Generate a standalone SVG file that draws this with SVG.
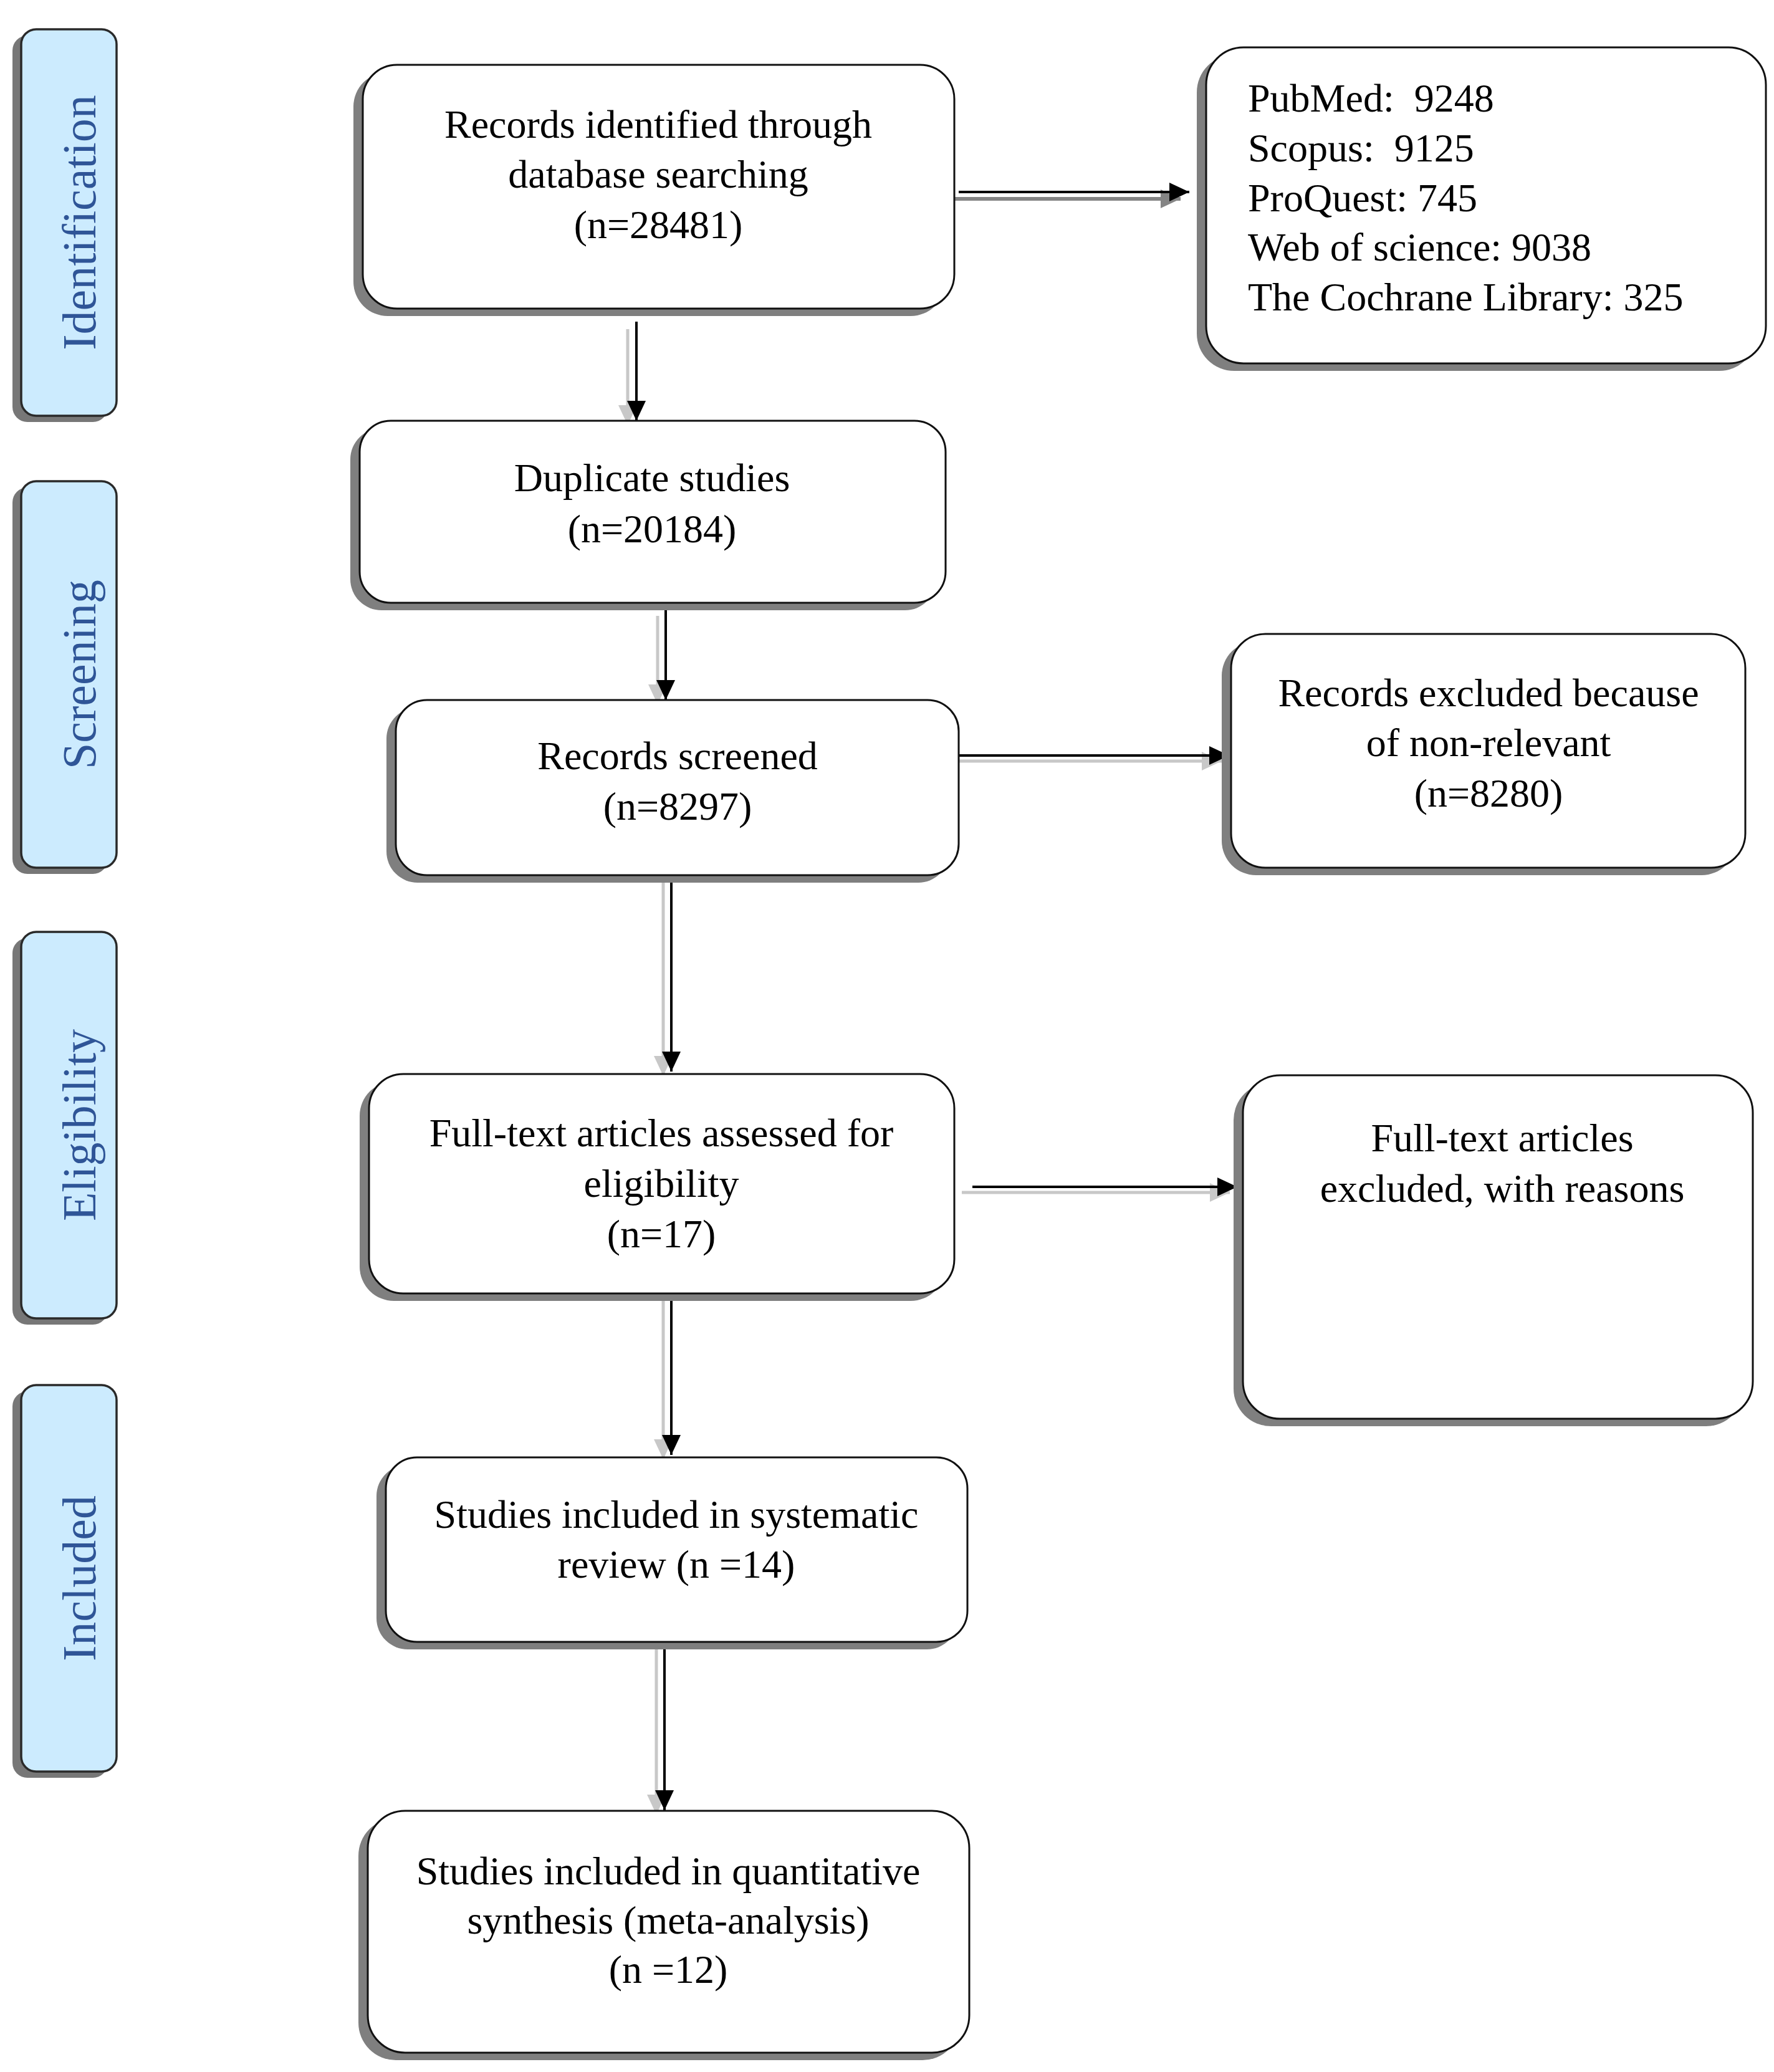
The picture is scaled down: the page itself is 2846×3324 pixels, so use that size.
<svg xmlns="http://www.w3.org/2000/svg" width="2846" height="3324" viewBox="0 0 2846 3324">
<style>
.stage{fill:#CCEBFE;stroke:#2a2a2a;stroke-width:3.5}
.sshadow{fill:#777}
.box{fill:#fff;stroke:#111;stroke-width:3}
.shadow{fill:#7f7f7f}
.st{font-family:"Liberation Serif","Times New Roman",serif;font-size:76px;fill:#2F5597;text-anchor:middle}
.t{font-family:"Liberation Serif","Times New Roman",serif;font-size:64px;fill:#000;text-anchor:middle}
.tl{font-family:"Liberation Serif","Times New Roman",serif;font-size:64px;fill:#000;white-space:pre}
.ln{stroke:#000;stroke-width:4;fill:none}
.lg{stroke:#c8c8c8;stroke-width:5;fill:none}
</style>
<defs>
<marker id="ab" markerUnits="userSpaceOnUse" markerWidth="32" markerHeight="30" refX="32" refY="15" orient="auto"><path d="M0,0 L32,15 L0,30 z" fill="#000"/></marker>
<marker id="ag" markerUnits="userSpaceOnUse" markerWidth="32" markerHeight="30" refX="32" refY="15" orient="auto"><path d="M0,0 L32,15 L0,30 z" fill="#c8c8c8"/></marker>
<marker id="ad" markerUnits="userSpaceOnUse" markerWidth="32" markerHeight="30" refX="32" refY="15" orient="auto"><path d="M0,0 L32,15 L0,30 z" fill="#858585"/></marker>
</defs>
<rect width="2846" height="3324" fill="#fff"/>

<g id="stage-identification">
<rect class="sshadow" x="20" y="57" width="153" height="620" rx="24"/>
<rect class="stage" x="34" y="47" width="153" height="620" rx="24"/>
<text class="st" transform="translate(153,357) rotate(-90)">Identification</text>
</g>
<g id="stage-screening">
<rect class="sshadow" x="20" y="782" width="153" height="620" rx="24"/>
<rect class="stage" x="34" y="772" width="153" height="620" rx="24"/>
<text class="st" transform="translate(153,1082) rotate(-90)">Screening</text>
</g>
<g id="stage-eligibility">
<rect class="sshadow" x="20" y="1505" width="153" height="620" rx="24"/>
<rect class="stage" x="34" y="1495" width="153" height="620" rx="24"/>
<text class="st" transform="translate(153,1805) rotate(-90)">Eligibility</text>
</g>
<g id="stage-included">
<rect class="sshadow" x="20" y="2232" width="153" height="620" rx="24"/>
<rect class="stage" x="34" y="2222" width="153" height="620" rx="24"/>
<text class="st" transform="translate(153,2532) rotate(-90)">Included</text>
</g>

<g id="connectors">
<line class="lg" x1="1007" y1="528" x2="1007" y2="682" marker-end="url(#ag)"/>
<line class="ln" x1="1021" y1="516" x2="1021" y2="675" marker-end="url(#ab)"/>
<line class="lg" x1="1055" y1="988" x2="1055" y2="1130" marker-end="url(#ag)"/>
<line class="ln" x1="1068" y1="978" x2="1068" y2="1123" marker-end="url(#ab)"/>
<line class="lg" x1="1064" y1="1414" x2="1064" y2="1726" marker-end="url(#ag)"/>
<line class="ln" x1="1077" y1="1404" x2="1077" y2="1719" marker-end="url(#ab)"/>
<line class="lg" x1="1064" y1="2087" x2="1064" y2="2341" marker-end="url(#ag)"/>
<line class="ln" x1="1077" y1="2077" x2="1077" y2="2334" marker-end="url(#ab)"/>
<line class="lg" x1="1053" y1="2646" x2="1053" y2="2911" marker-end="url(#ag)"/>
<line class="ln" x1="1066" y1="2638" x2="1066" y2="2904" marker-end="url(#ab)"/>
<line x1="1522" y1="319" x2="1894" y2="319" stroke="#858585" stroke-width="6" marker-end="url(#ad)"/>
<line class="ln" x1="1538" y1="308" x2="1908" y2="308" marker-end="url(#ab)"/>
<line class="lg" x1="1509" y1="1221" x2="1960" y2="1221" marker-end="url(#ag)"/>
<line class="ln" x1="1521" y1="1212" x2="1972" y2="1212" marker-end="url(#ab)"/>
<line class="lg" x1="1543" y1="1913" x2="1973" y2="1913" marker-end="url(#ag)"/>
<line class="ln" x1="1560" y1="1904" x2="1985" y2="1904" marker-end="url(#ab)"/>
</g>

<g id="records-identified">
<rect class="shadow" x="567" y="116" width="949" height="391" rx="55"/>
<rect class="box" x="582" y="104" width="949" height="391" rx="55"/>
<text class="t" x="1056" y="221">Records identified through</text>
<text class="t" x="1056" y="301">database searching</text>
<text class="t" x="1056" y="382">(n=28481)</text>
</g>
<g id="databases">
<rect class="shadow" x="1920" y="88" width="898" height="507" rx="60"/>
<rect class="box" x="1935" y="76" width="898" height="507" rx="60"/>
<text class="tl" x="2002" y="179" xml:space="preserve">PubMed:  9248</text>
<text class="tl" x="2002" y="259" xml:space="preserve">Scopus:  9125</text>
<text class="tl" x="2002" y="339">ProQuest: 745</text>
<text class="tl" x="2002" y="418">Web of science: 9038</text>
<text class="tl" x="2002" y="498">The Cochrane Library: 325</text>
</g>
<g id="duplicates">
<rect class="shadow" x="562" y="687" width="940" height="292" rx="50"/>
<rect class="box" x="577" y="675" width="940" height="292" rx="50"/>
<text class="t" x="1046" y="788">Duplicate studies</text>
<text class="t" x="1046" y="870">(n=20184)</text>
</g>
<g id="records-screened">
<rect class="shadow" x="620" y="1135" width="903" height="281" rx="50"/>
<rect class="box" x="635" y="1123" width="903" height="281" rx="50"/>
<text class="t" x="1087" y="1234">Records screened</text>
<text class="t" x="1087" y="1315">(n=8297)</text>
</g>
<g id="records-excluded">
<rect class="shadow" x="1960" y="1029" width="825" height="375" rx="55"/>
<rect class="box" x="1975" y="1017" width="825" height="375" rx="55"/>
<text class="t" x="2388" y="1133">Records excluded because</text>
<text class="t" x="2388" y="1213">of non-relevant</text>
<text class="t" x="2388" y="1294">(n=8280)</text>
</g>
<g id="fulltext-assessed">
<rect class="shadow" x="577" y="1735" width="939" height="352" rx="55"/>
<rect class="box" x="592" y="1723" width="939" height="352" rx="55"/>
<text class="t" x="1061" y="1839">Full-text articles assessed for</text>
<text class="t" x="1061" y="1920">eligibility</text>
<text class="t" x="1061" y="2001">(n=17)</text>
</g>
<g id="fulltext-excluded">
<rect class="shadow" x="1979" y="1737" width="818" height="551" rx="60"/>
<rect class="box" x="1994" y="1725" width="818" height="551" rx="60"/>
<text class="t" x="2410" y="1847">Full-text articles</text>
<text class="t" x="2410" y="1928">excluded, with reasons</text>
</g>
<g id="systematic-review">
<rect class="shadow" x="604" y="2350" width="933" height="296" rx="50"/>
<rect class="box" x="619" y="2338" width="933" height="296" rx="50"/>
<text class="t" x="1085" y="2451">Studies included in systematic</text>
<text class="t" x="1085" y="2531">review (n =14)</text>
</g>
<g id="meta-analysis">
<rect class="shadow" x="575" y="2917" width="965" height="388" rx="60"/>
<rect class="box" x="590" y="2905" width="965" height="388" rx="60"/>
<text class="t" x="1072" y="3023">Studies included in quantitative</text>
<text class="t" x="1072" y="3102">synthesis (meta-analysis)</text>
<text class="t" x="1072" y="3181">(n =12)</text>
</g>
</svg>
